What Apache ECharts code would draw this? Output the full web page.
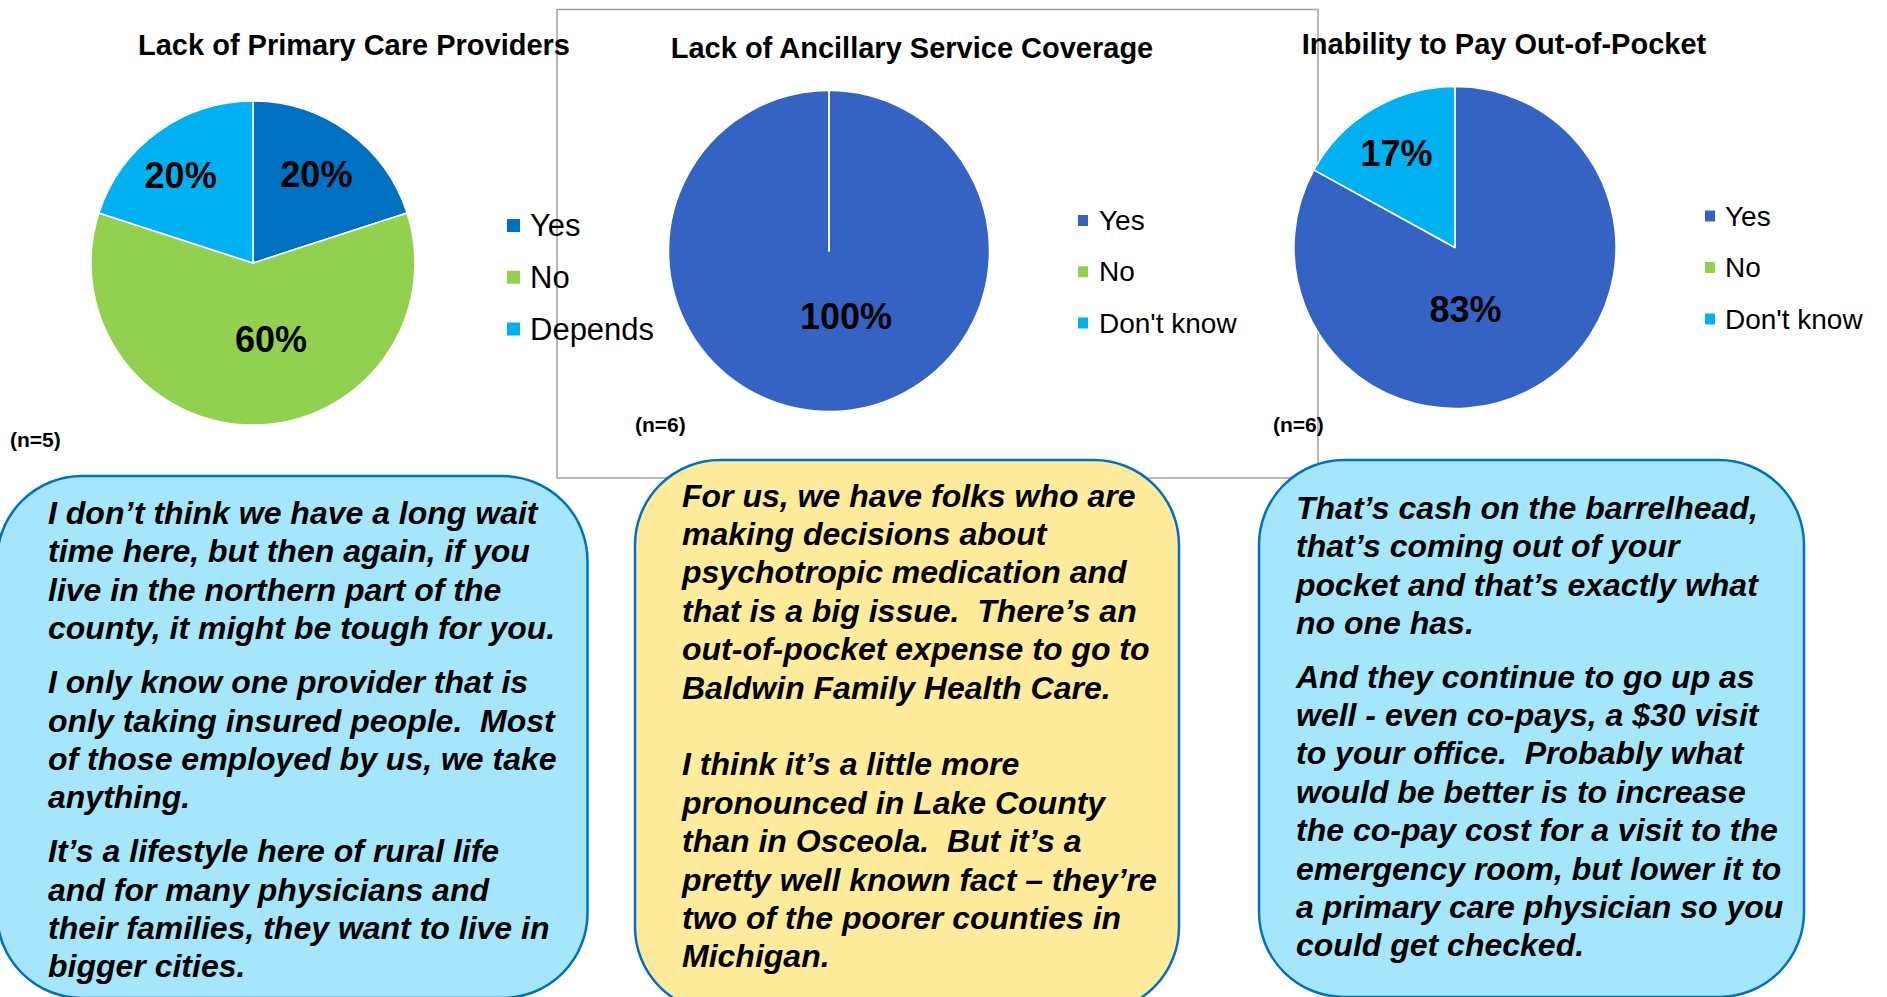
<!DOCTYPE html>
<html>
<head>
<meta charset="utf-8">
<script src="https://cdn.jsdelivr.net/npm/echarts@6/dist/echarts.min.js"></script>
<style>
  html, body { margin: 0; padding: 0; background: #fff; }
  #main { width: 1887px; height: 997px; }
</style>
</head>
<body>
<div id="main"></div>
<script>
// chart data
var titles = ['Lack of Primary Care Providers', 'Lack of Ancillary Service Coverage', 'Inability to Pay Out-of-Pocket'];
var sampleSizes = ['(n=5)', '(n=6)', '(n=6)'];
var categories1 = ['Yes', 'No', 'Depends'];
var values1 = [20, 60, 20];
var categories2 = ['Yes', 'No', "Don't know"];
var values2 = [100, 0, 0];
var categories3 = ['Yes', 'No', "Don't know"];
var values3 = [83, 0, 17];

// quotes, one list of paragraphs per box
var quote1 = [
  ['I don\u2019t think we have a long wait', 'time here, but then again, if you', 'live in the northern part of the', 'county, it might be tough for you.'],
  ['I only know one provider that is', 'only taking insured people.  Most', 'of those employed by us, we take', 'anything.'],
  ['It\u2019s a lifestyle here of rural life', 'and for many physicians and', 'their families, they want to live in', 'bigger cities.']
];
var quote2 = [
  ['For us, we have folks who are', 'making decisions about', 'psychotropic medication and', 'that is a big issue.  There\u2019s an', 'out-of-pocket expense to go to', 'Baldwin Family Health Care.'],
  ['I think it\u2019s a little more', 'pronounced in Lake County', 'than in Osceola.  But it\u2019s a', 'pretty well known fact \u2013 they\u2019re', 'two of the poorer counties in', 'Michigan.']
];
var quote3 = [
  ['That\u2019s cash on the barrelhead,', 'that\u2019s coming out of your', 'pocket and that\u2019s exactly what', 'no one has.'],
  ['And they continue to go up as', 'well - even co-pays, a $30 visit', 'to your office.  Probably what', 'would be better is to increase', 'the co-pay cost for a visit to the', 'emergency room, but lower it to', 'a primary care physician so you', 'could get checked.']
];

var FONT = '"Liberation Sans", Arial, Helvetica, sans-serif';
var sliceColors1 = ['#0070C0', '#92D050', '#00B0F0'];
var sliceColors2 = ['#3563C4', '#92D050', '#00B0F0'];

function pieData(names, values, colors) {
  return names.map(function (n, i) {
    return { name: n, value: values[i], itemStyle: { color: colors[i] } };
  });
}

// small nudges so the labels sit where the original put them
var labelNudge = [
  [[14, -21], [18, -8], [-23, -20]],
  [[17, -18], [0, 0], [0, 0]],
  [[-32, -10], [0, 0], [-16, -22]]
];

function pieSeries(idx, data, center, radius) {
  return {
    type: 'pie',
    center: center,
    radius: radius,
    startAngle: 90,
    clockwise: true,
    silent: true,
    data: data,
    itemStyle: { borderColor: '#fff', borderWidth: 1.5 },
    label: {
      show: true,
      position: 'inside',
      color: '#000',
      fontFamily: FONT,
      fontWeight: 'bold',
      fontSize: 36,
      formatter: function (p) { return p.value ? p.value + '%' : ''; }
    },
    labelLine: { show: false },
    labelLayout: function (p) {
      var d = labelNudge[idx][p.dataIndex];
      return { dx: d[0], dy: d[1] };
    },
    emphasis: { disabled: true }
  };
}

function quoteBox(box, paras, gap) {
  var children = [{
    type: 'rect',
    shape: { x: box.x, y: box.y, width: box.w, height: box.h, r: 85 },
    style: { fill: box.fill, stroke: '#0070C0', lineWidth: 2.5 },
    z: 10
  }];
  var lh = 38.4;
  var top = box.textTop;
  paras.forEach(function (lines) {
    children.push({
      type: 'text',
      z: 11,
      style: {
        text: lines.join('\n'),
        x: box.textX, y: top,
        font: 'italic bold 32px ' + FONT,
        fill: '#000',
        lineHeight: lh,
        align: 'left',
        verticalAlign: 'top'
      }
    });
    top += lines.length * lh + gap;
  });
  return { type: 'group', children: children };
}

function nLabel(text, x, y) {
  return {
    type: 'text', z: 5,
    style: { text: text, x: x, y: y, font: 'bold 21px ' + FONT, fill: '#000', verticalAlign: 'middle' }
  };
}

var titleStyle = { fontFamily: FONT, fontWeight: 'bold', fontSize: 29, lineHeight: 30, color: '#000' };

var myChart = echarts.init(document.getElementById('main'), null, { renderer: 'svg' });

var option = {
  backgroundColor: '#fff',
  animation: false,
  title: [
    { text: titles[0], left: 354, top: 29.5, textAlign: 'center', padding: 0, textStyle: titleStyle },
    { text: titles[1], left: 912, top: 33, textAlign: 'center', padding: 0, textStyle: titleStyle },
    { text: titles[2], left: 1504, top: 28.5, textAlign: 'center', padding: 0, textStyle: titleStyle }
  ],
  legend: [
    {
      orient: 'vertical', left: 505, top: 209.5, padding: 0,
      itemWidth: 15, itemHeight: 15, itemGap: 19.75,
      selectedMode: false, icon: 'rect',
      data: categories1,
      textStyle: { fontFamily: FONT, fontSize: 31, lineHeight: 32, color: '#000', padding: [0, 0, 0, 4] }
    },
    {
      orient: 'vertical', left: 1076, top: 205.5, padding: 0,
      itemWidth: 12, itemHeight: 13, itemGap: 21.25,
      selectedMode: false, icon: 'rect',
      data: [{ name: categories2[0], itemStyle: { color: sliceColors2[0] } }, categories2[1], categories2[2]],
      textStyle: { fontFamily: FONT, fontSize: 28, lineHeight: 30, color: '#000', padding: [0, 0, 0, 5] }
    },
    {
      orient: 'vertical', left: 1703, top: 201, padding: 0,
      itemWidth: 12, itemHeight: 13, itemGap: 21.5,
      selectedMode: false, icon: 'rect',
      data: [{ name: categories3[0], itemStyle: { color: sliceColors2[0] } }, categories3[1], categories3[2]],
      textStyle: { fontFamily: FONT, fontSize: 28, lineHeight: 30, color: '#000', padding: [0, 0, 0, 4] }
    }
  ],
  graphic: [
    {
      type: 'rect', z: 0,
      shape: { x: 557, y: 9.5, width: 761, height: 468.5 },
      style: { fill: 'none', stroke: '#a0a0a0', lineWidth: 1.5 }
    },
    nLabel(sampleSizes[0], 10, 439),
    nLabel(sampleSizes[1], 635, 424),
    nLabel(sampleSizes[2], 1273, 424),
    quoteBox({ x: -3, y: 476, w: 590.5, h: 522, fill: '#A6E6FA', textX: 48, textTop: 493.8 }, quote1, 15.5),
    quoteBox({ x: 635, y: 460, w: 544, h: 552, fill: '#FFEB9C', textX: 682, textTop: 476.3 }, quote2, 38.4),
    quoteBox({ x: 1259, y: 460, w: 545, h: 537, fill: '#A6E6FA', textX: 1296, textTop: 488.5 }, quote3, 15.3)
  ],
  series: [
    pieSeries(0, pieData(categories1, values1, sliceColors1), [253, 263], 162),
    pieSeries(1, pieData(categories2, values2, sliceColors2), [829, 251], 160.5),
    pieSeries(2, pieData(categories3, values3, sliceColors2), [1455, 247.5], 161)
  ]
};

myChart.setOption(option);
</script>
</body>
</html>
